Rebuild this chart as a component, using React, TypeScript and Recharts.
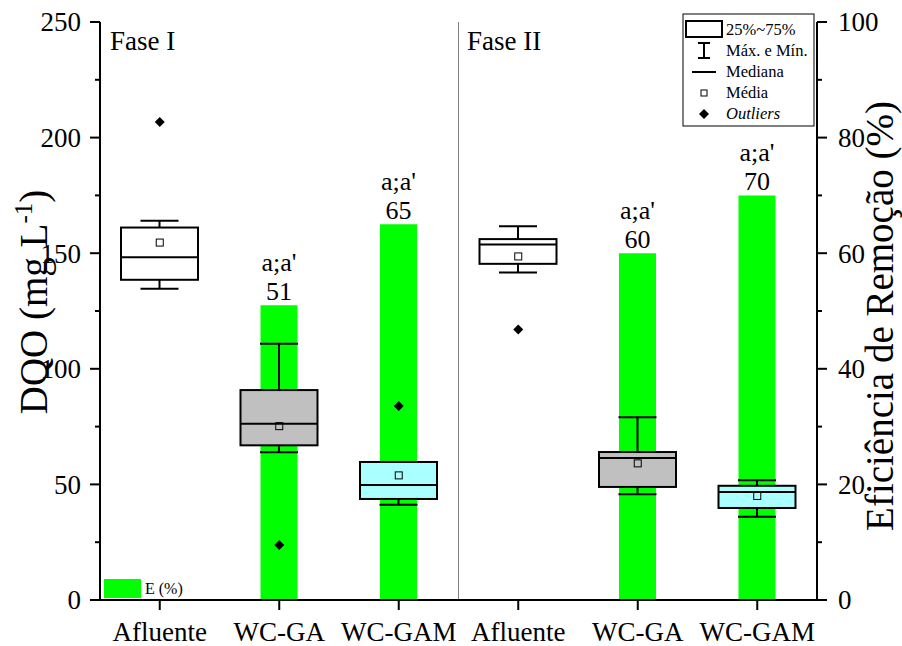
import { ComposedChart, Bar, Scatter, XAxis, YAxis, ReferenceLine, LabelList } from 'recharts';

const keys = ['AF1', 'GA1', 'GAM1', 'AF2', 'GA2', 'GAM2'];
const categories = ['Afluente', 'WC-GA', 'WC-GAM', 'Afluente', 'WC-GA', 'WC-GAM'];

// DQO box statistics (mg/L)
const whiskerMin = [134.6, 63.9, 41.2, 141.7, 45.7, 36.0];
const q1 = [138.5, 66.9, 43.7, 145.4, 48.9, 39.8];
const median = [148.2, 76.2, 49.7, 153.8, 61.4, 46.7];
const q3 = [161.1, 90.8, 59.7, 156.1, 64.0, 49.4];
const whiskerMax = [164.0, 110.8, 59.7, 161.7, 79.0, 51.8];
const mean = [154.6, 75.2, 53.9, 148.6, 59.1, 45.0];
const boxColors = ['#ffffff', '#c0c0c0', '#aaffff', '#ffffff', '#c0c0c0', '#aaffff'];

// removal efficiency (%)
const efficiency = [null, 51, 65, null, 60, 70];
const letters = ['', "a;a'", "a;a'", '', "a;a'", "a;a'"];

const outlierKeys = ['AF1', 'GA1', 'GAM1', 'AF2'];
const outlierValues = [206.7, 23.8, 83.9, 117.0];

const leftTicks = [0, 25, 50, 75, 100, 125, 150, 175, 200, 225, 250];
const rightTicks = [0, 10, 20, 30, 40, 50, 60, 70, 80, 90, 100];

const FONT = 'Liberation Serif, DejaVu Serif, serif';

const rows = keys.map((key, i) => ({
  key,
  base: q1[i],
  iqr: q3[i] - q1[i],
  lo: q1[i],
  hi: q3[i],
  wMin: whiskerMin[i],
  wMax: whiskerMax[i],
  med: median[i],
  mean: mean[i],
  eff: efficiency[i],
  boxColor: boxColors[i],
}));

const outlierRows = outlierKeys.map((key, i) => ({ key, v: outlierValues[i] }));

function BoxShape(props: any) {
  const { x, y, width, height, payload } = props;
  if (!payload || !height) return null;
  const unit = height / (payload.hi - payload.lo);
  const toY = (v: number) => y + (payload.hi - v) * unit;
  const cx = x + width / 2;
  const boxW = 77;
  const capW = 38;
  return (
    <g>
      <line x1={cx} x2={cx} y1={toY(payload.wMax)} y2={toY(payload.wMin)} stroke="#000" strokeWidth={2} />
      <line x1={cx - capW / 2} x2={cx + capW / 2} y1={toY(payload.wMax)} y2={toY(payload.wMax)} stroke="#000" strokeWidth={2} />
      <line x1={cx - capW / 2} x2={cx + capW / 2} y1={toY(payload.wMin)} y2={toY(payload.wMin)} stroke="#000" strokeWidth={2} />
      <rect x={cx - boxW / 2} y={y} width={boxW} height={height} fill={payload.boxColor} stroke="#000" strokeWidth={2} />
      <line x1={cx - boxW / 2} x2={cx + boxW / 2} y1={toY(payload.med)} y2={toY(payload.med)} stroke="#000" strokeWidth={2} />
    </g>
  );
}

function MeanShape(props: any) {
  const { cx, cy } = props;
  if (cx == null || cy == null) return null;
  return <rect x={cx - 3.5} y={cy - 3.5} width={7} height={7} fill="none" stroke="#000" strokeWidth={1} />;
}

function OutlierShape(props: any) {
  const { cx, cy } = props;
  if (cx == null || cy == null) return null;
  const r = 5;
  return <polygon points={`${cx},${cy - r} ${cx + r},${cy} ${cx},${cy + r} ${cx - r},${cy}`} fill="#000" />;
}

function LeftTick({ x, y, payload }: any) {
  const major = payload.value % 50 === 0;
  return (
    <g>
      <line x1={x} x2={x - (major ? 10 : 5)} y1={y} y2={y} stroke="#000" strokeWidth={2} />
      {major && (
        <text x={x - 19} y={y} dy="0.35em" textAnchor="end" fontSize={27} style={{ fontFamily: FONT }} fill="#000">
          {payload.value}
        </text>
      )}
    </g>
  );
}

function RightTick({ x, y, payload }: any) {
  const major = payload.value % 20 === 0;
  return (
    <g>
      <line x1={x} x2={x + (major ? 10 : 5)} y1={y} y2={y} stroke="#000" strokeWidth={2} />
      {major && (
        <text x={x + 21} y={y} dy="0.35em" textAnchor="start" fontSize={27} style={{ fontFamily: FONT }} fill="#000">
          {payload.value}
        </text>
      )}
    </g>
  );
}

function EffLabel(props: any) {
  const { x, y, width, value, index } = props;
  if (value == null) return null;
  const cx = x + width / 2;
  return (
    <text x={cx} y={y - 34} style={{ fontFamily: FONT }} fontSize={26} fill="#000" textAnchor="middle">
      <tspan x={cx}>{letters[index] || "a;a'"}</tspan>
      <tspan x={cx} dy={29}>{value}</tspan>
    </text>
  );
}

function Overlay() {
  return (
    <svg width={902} height={646} style={{ position: 'absolute', left: 0, top: 0, pointerEvents: 'none', fontFamily: FONT }}>
      <text x={110} y={50} fontSize={27}>Fase I</text>
      <text x={467} y={50} fontSize={27}>Fase II</text>

      <text transform="translate(47,302) rotate(-90)" textAnchor="middle" fontSize={39}>
        DQO (mg L<tspan dy={-15} fontSize={25}>-1</tspan><tspan dy={15}>)</tspan>
      </text>
      <text transform="translate(893,316) rotate(-90)" textAnchor="middle" fontSize={39}>
        Eficiência de Remoção (%)
      </text>

      <g fontSize={16.5}>
        <rect x={683} y={14} width={131} height={112} fill="#fff" stroke="#000" strokeWidth={1} />
        <rect x={686} y={21} width={36} height={16} fill="#fff" stroke="#000" strokeWidth={2} />
        <text x={726} y={35}>25%~75%</text>
        <line x1={704} x2={704} y1={43} y2={58} stroke="#000" strokeWidth={2} />
        <line x1={698} x2={710} y1={43} y2={43} stroke="#000" strokeWidth={2} />
        <line x1={698} x2={710} y1={58} y2={58} stroke="#000" strokeWidth={2} />
        <text x={726} y={56}>Máx. e Mín.</text>
        <line x1={692} x2={716} y1={72} y2={72} stroke="#000" strokeWidth={2} />
        <text x={726} y={77}>Mediana</text>
        <rect x={701} y={90} width={6} height={6} fill="none" stroke="#000" strokeWidth={1} />
        <text x={726} y={98}>Média</text>
        <polygon points="704,109 709,114 704,119 699,114" fill="#000" />
        <text x={726} y={119} fontStyle="italic">Outliers</text>
      </g>

      <rect x={104} y={579} width={37} height={19} fill="#00ff00" />
      <text x={145} y={594} fontSize={16}>E (%)</text>
    </svg>
  );
}

export default function App() {
  return (
    <div style={{ position: 'absolute', left: 0, top: 0, width: 902, height: 646, background: '#fff', fontFamily: FONT }}>
      <ComposedChart
        width={902}
        height={646}
        data={rows}
        margin={{ top: 22, right: 0, bottom: 0, left: 0 }}
        barGap={-37}
      >
        <XAxis
          dataKey="key"
          allowDuplicatedCategory={false}
          tickFormatter={(k: string) => categories[keys.indexOf(k)]}
          height={46}
          tickSize={10}
          tickMargin={12}
          interval={0}
          axisLine={{ stroke: '#000', strokeWidth: 2 }}
          tickLine={{ stroke: '#000', strokeWidth: 2 }}
          tick={{ fontSize: 27, fill: '#000', style: { fontFamily: FONT } }}
        />
        <YAxis
          yAxisId="left"
          orientation="left"
          domain={[0, 250]}
          ticks={leftTicks}
          interval={0}
          width={100}
          tickSize={0}
          tickMargin={0}
          tickLine={false}
          axisLine={{ stroke: '#000', strokeWidth: 2 }}
          tick={<LeftTick />}
        />
        <YAxis
          yAxisId="right"
          orientation="right"
          domain={[0, 100]}
          ticks={rightTicks}
          interval={0}
          width={85}
          tickSize={0}
          tickMargin={0}
          tickLine={false}
          axisLine={{ stroke: '#000', strokeWidth: 2 }}
          tick={<RightTick />}
        />
        <ReferenceLine x="AF2" yAxisId="left" position="start" stroke="#808080" strokeWidth={1} />
        <Bar yAxisId="right" dataKey="eff" fill="#00ff00" barSize={37} isAnimationActive={false}>
          <LabelList dataKey="eff" content={<EffLabel />} />
        </Bar>
        <Bar yAxisId="left" dataKey="base" stackId="box" fill="transparent" barSize={37} isAnimationActive={false} />
        <Bar yAxisId="left" dataKey="iqr" stackId="box" barSize={37} shape={<BoxShape />} isAnimationActive={false} />
        <Scatter yAxisId="left" dataKey="mean" shape={<MeanShape />} isAnimationActive={false} />
        <Scatter yAxisId="left" data={outlierRows} dataKey="v" shape={<OutlierShape />} isAnimationActive={false} />
      </ComposedChart>
      <Overlay />
    </div>
  );
}
